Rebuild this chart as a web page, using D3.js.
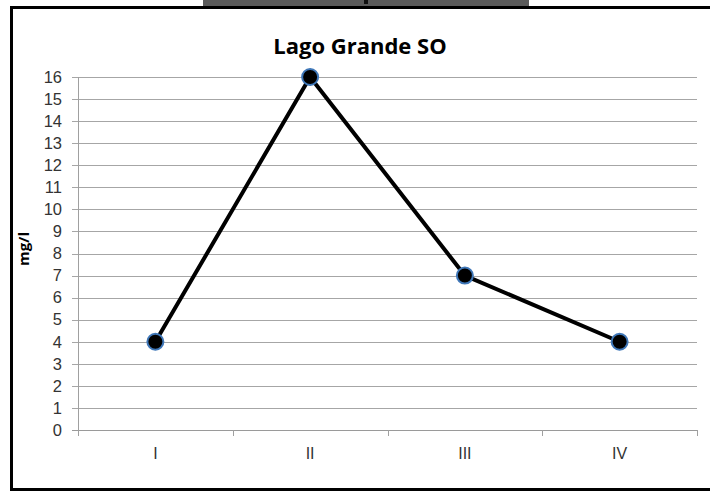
<!DOCTYPE html>
<html>
<head>
<meta charset="utf-8">
<script src="https://cdn.jsdelivr.net/npm/d3@7"></script>
<style>
  body { margin: 0; background: #fff; }
  svg { display: block; }
</style>
</head>
<body>
<svg class="line-chart-svg"></svg>
<script>
// chart data
const categories = ['I', 'II', 'III', 'IV']
const values = [4, 16, 7, 4]
const yTicks = d3.range(0, 17)

const width = 710
const height = 491
const plot = { left: 78, right: 697, top: 77, bottom: 430 }

const svg = d3.select('.line-chart-svg')
  .attr('width', width)
  .attr('height', height)

const x = d3.scaleBand().domain(categories).range([plot.left, plot.right])
const y = d3.scaleLinear().domain([0, 16]).range([plot.bottom, plot.top])

function drawFrame(svg) {
  // dark strip at the very top (cropped from the source page)
  svg.append('rect')
    .attr('x', 203).attr('y', 0)
    .attr('width', 326).attr('height', 6)
    .attr('fill', '#5b5b5b')
  svg.append('rect')
    .attr('x', 364).attr('y', 0)
    .attr('width', 4).attr('height', 4)
    .attr('fill', '#111')

  // black border, open at the right
  svg.append('path')
    .attr('d', 'M710,7.5 H11.5 V489.5 H710')
    .attr('fill', 'none')
    .attr('stroke', '#000')
    .attr('stroke-width', 3)
}

function drawGrid(svg) {
  const g = svg.append('g').attr('class', 'grid')
  g.selectAll('line')
    .data(yTicks)
    .join('line')
    .attr('x1', plot.left - 6)
    .attr('x2', plot.right)
    .attr('y1', d => Math.round(y(d)) + 0.5)
    .attr('y2', d => Math.round(y(d)) + 0.5)
    .attr('stroke', d => d === 0 ? '#9a9a9a' : '#a6a6a6')
    .attr('stroke-width', 1)
}

function drawAxes(svg) {
  // y axis
  const yAxis = d3.axisLeft(y).tickValues(yTicks).tickSize(0).tickPadding(16)
  const gy = svg.append('g')
    .attr('transform', `translate(${plot.left},0)`)
    .call(yAxis)
  gy.select('.domain').remove()
  gy.selectAll('text')
    .attr('font-family', 'Liberation Sans, Arial, sans-serif')
    .attr('font-size', 16.5)
    .attr('fill', '#333')

  svg.append('line')
    .attr('x1', plot.left + 0.5).attr('x2', plot.left + 0.5)
    .attr('y1', plot.top).attr('y2', plot.bottom + 6)
    .attr('stroke', '#a0a0a0')

  // x axis ticks at band boundaries
  const bounds = categories.map(c => x(c) + x.bandwidth())
  svg.append('g').selectAll('line')
    .data(bounds)
    .join('line')
    .attr('x1', d => Math.round(d) + 0.5)
    .attr('x2', d => Math.round(d) + 0.5)
    .attr('y1', plot.bottom)
    .attr('y2', plot.bottom + 6)
    .attr('stroke', '#a0a0a0')

  svg.append('g').selectAll('text')
    .data(categories)
    .join('text')
    .attr('x', d => x(d) + x.bandwidth() / 2)
    .attr('y', 459)
    .attr('text-anchor', 'middle')
    .attr('font-family', 'Liberation Sans, Arial, sans-serif')
    .attr('font-size', 16)
    .attr('fill', '#333')
    .text(d => d)

  // axis title
  svg.append('text')
    .attr('transform', 'translate(29,249) rotate(-90)')
    .attr('text-anchor', 'middle')
    .attr('font-family', 'Open Sans, Liberation Sans, sans-serif')
    .attr('font-weight', 'bold')
    .attr('font-size', 15)
    .attr('fill', '#000')
    .text('mg/l')
}

function drawSeries(svg) {
  const points = categories.map((c, i) => ({ cat: c, value: values[i] }))
  const line = d3.line()
    .x(d => x(d.cat) + x.bandwidth() / 2)
    .y(d => y(d.value))

  svg.append('path')
    .datum(points)
    .attr('d', line)
    .attr('fill', 'none')
    .attr('stroke', '#000')
    .attr('stroke-width', 4)
    .attr('stroke-linejoin', 'round')

  svg.append('g').selectAll('circle')
    .data(points)
    .join('circle')
    .attr('cx', d => x(d.cat) + x.bandwidth() / 2)
    .attr('cy', d => y(d.value))
    .attr('r', 8)
    .attr('fill', '#000')
    .attr('stroke', '#3f77b8')
    .attr('stroke-width', 2)
}

drawFrame(svg)
drawGrid(svg)
drawAxes(svg)
drawSeries(svg)

svg.append('text')
  .attr('x', 360)
  .attr('y', 54)
  .attr('text-anchor', 'middle')
  .attr('font-family', 'Open Sans, Liberation Sans, sans-serif')
  .attr('font-weight', 'bold')
  .attr('font-size', 22)
  .attr('fill', '#000')
  .text('Lago Grande SO')
</script>
</body>
</html>
